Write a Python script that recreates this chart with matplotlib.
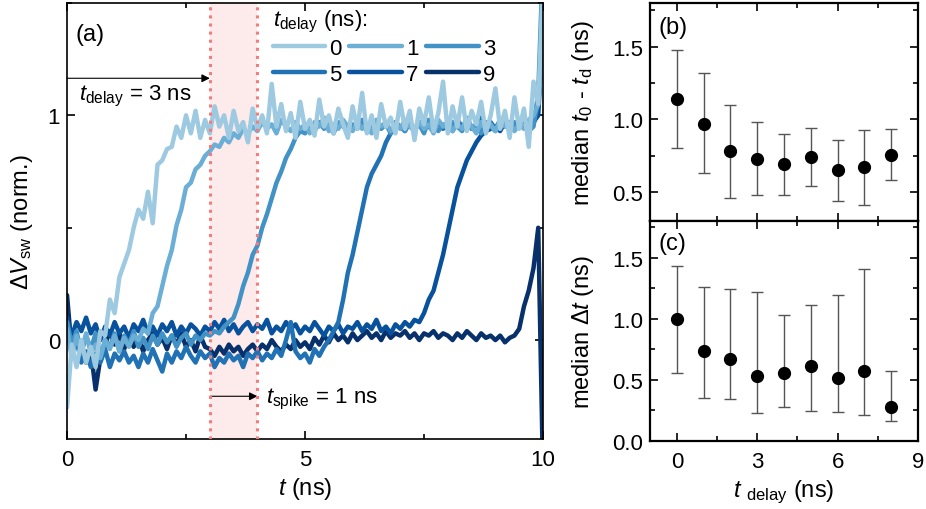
import numpy as np
import matplotlib.pyplot as plt
from matplotlib.ticker import MultipleLocator

plt.rcParams['font.family'] = ['Liberation Sans', 'DejaVu Sans']
plt.rcParams['mathtext.fontset'] = 'custom'
plt.rcParams['mathtext.rm'] = 'Liberation Sans'
plt.rcParams['mathtext.it'] = 'Liberation Sans:italic'
plt.rcParams['mathtext.bf'] = 'Liberation Sans:bold'

# --- panel (a): normalised switching traces, sampled every 0.1 ns ---
time_ns = np.round(np.arange(101) * 0.1, 1)
delays = [0, 1, 3, 5, 7, 9]
trace_colors = ['#9ecae1', '#6baed6', '#4292c6', '#2171b5', '#08519c', '#08306b']

v0 = [-0.30, -0.02, -0.12, 0.00, -0.10, -0.03, -0.12, 0.04, 0.02, 0.18,
      0.12, 0.28, 0.34, 0.40, 0.50, 0.58, 0.54, 0.66, 0.52, 0.78,
      0.80, 0.85, 0.86, 0.95, 0.90, 1.00, 0.92, 1.02, 0.90, 0.98,
      0.92, 1.04, 0.95, 1.00, 0.90, 1.02, 0.93, 0.97, 0.88, 1.03,
      0.94, 1.00, 0.92, 1.14, 0.95, 1.05, 0.93, 1.01, 0.90, 1.06,
      0.94, 0.98, 0.91, 1.07, 0.95, 1.00, 0.92, 1.03, 0.96, 0.90,
      1.04, 0.94, 1.10, 0.92, 1.00, 0.90, 1.05, 0.95, 0.99, 0.92,
      1.06, 0.94, 1.02, 0.89, 1.03, 0.96, 1.08, 0.93, 1.01, 1.15,
      0.92, 1.04, 0.95, 1.08, 0.93, 1.02, 0.96, 1.06, 0.92, 1.00,
      1.12, 0.94, 1.02, 0.90, 1.08, 0.94, 1.03, 0.86, 1.15, 1.05,
      1.60]
v1 = [0.05, -0.08, 0.02, -0.05, 0.03, -0.06, -0.02, -0.08, 0.00, -0.04,
      0.02, -0.05, 0.01, -0.03, 0.02, 0.00, 0.05, 0.03, 0.12, 0.15,
      0.24, 0.33, 0.40, 0.51, 0.58, 0.68, 0.70, 0.76, 0.78, 0.82,
      0.84, 0.87, 0.86, 0.90, 0.88, 0.92, 0.90, 0.94, 0.92, 0.95,
      0.93, 0.97, 0.94, 0.96, 0.92, 0.98, 0.95, 0.93, 0.97, 0.94,
      0.96, 0.92, 0.97, 0.95, 0.99, 0.93, 0.96, 0.94, 0.98, 0.95,
      0.93, 0.97, 0.94, 0.96, 0.92, 0.98, 0.95, 0.97, 0.93, 0.96,
      0.94, 0.98, 0.95, 0.93, 0.97, 0.94, 0.96, 0.92, 0.98, 0.95,
      0.97, 0.93, 0.96, 0.94, 0.99, 0.95, 0.92, 0.97, 0.94, 0.96,
      0.93, 0.98, 0.95, 0.97, 0.93, 0.96, 0.94, 0.98, 1.00, 1.05,
      1.30]
v3 = [0.08, -0.02, 0.04, -0.06, 0.02, -0.04, 0.03, -0.07, 0.00, -0.03,
      0.03, -0.05, 0.02, -0.02, 0.04, -0.03, 0.01, -0.04, 0.02, -0.02,
      0.03, -0.01, 0.02, -0.03, 0.01, 0.03, -0.02, 0.02, 0.00, 0.03,
      0.02, 0.04, 0.03, 0.06, 0.08, 0.10, 0.16, 0.24, 0.30, 0.38,
      0.42, 0.50, 0.56, 0.63, 0.70, 0.75, 0.81, 0.85, 0.90, 0.93,
      0.92, 0.95, 0.93, 0.97, 0.94, 0.96, 0.92, 0.97, 0.95, 0.93,
      0.96, 0.94, 0.98, 0.93, 0.95, 0.97, 0.94, 0.96, 0.92, 0.97,
      0.95, 0.93, 0.97, 0.94, 0.96, 0.92, 0.98, 0.95, 0.93, 0.96,
      0.94, 0.97, 0.95, 0.93, 0.98, 0.94, 0.96, 0.92, 0.97, 0.95,
      0.93, 0.96, 0.98, 0.94, 0.97, 0.95, 0.99, 0.93, 0.95, 1.10,
      1.70]
v5 = [0.05, -0.02, 0.00, -0.10, -0.05, -0.12, -0.06, -0.10, -0.04, -0.12,
      -0.06, -0.09, -0.05, -0.10, -0.07, -0.12, -0.06, -0.10, -0.04, -0.09,
      -0.14, -0.06, -0.10, -0.05, -0.08, -0.03, -0.07, -0.10, -0.05, -0.08,
      -0.06, -0.12, -0.08, -0.10, -0.06, -0.09, -0.07, -0.12, -0.06, -0.08,
      -0.05, -0.09, -0.06, -0.08, -0.04, -0.07, 0.00, 0.08, -0.05, -0.08,
      -0.06, -0.10, -0.04, -0.07, -0.03, 0.00, 0.04, 0.08, 0.18, 0.30,
      0.38, 0.48, 0.58, 0.68, 0.74, 0.78, 0.82, 0.88, 0.92, 0.94,
      0.95, 0.93, 0.97, 0.94, 0.96, 0.98, 0.95, 0.93, 0.97, 0.94,
      0.96, 0.93, 0.98, 0.95, 0.97, 0.94, 0.96, 0.99, 0.95, 0.97,
      0.94, 0.98, 0.95, 0.97, 0.94, 0.96, 0.98, 0.95, 0.96, 1.05,
      1.50]
v7 = [0.10, 0.02, 0.08, 0.04, 0.10, 0.03, 0.07, 0.00, 0.06, 0.02,
      0.08, 0.03, 0.06, 0.01, 0.07, 0.04, 0.09, 0.03, 0.06, 0.02,
      0.07, 0.04, 0.08, 0.02, 0.06, 0.03, 0.07, 0.05, 0.02, 0.06,
      0.04, 0.08, 0.05, 0.09, 0.04, 0.07, 0.03, 0.06, 0.08, 0.04,
      0.07, 0.05, 0.09, 0.03, 0.06, 0.04, 0.08, 0.05, 0.07, 0.03,
      0.06, 0.04, 0.08, 0.05, 0.02, 0.06, 0.04, 0.07, 0.03, 0.06,
      0.05, 0.08, 0.04, 0.07, 0.05, 0.09, 0.04, 0.06, 0.03, 0.07,
      0.05, 0.08, 0.06, 0.09, 0.08, 0.12, 0.18, 0.22, 0.30, 0.38,
      0.48, 0.58, 0.68, 0.74, 0.80, 0.84, 0.88, 0.91, 0.93, 0.94,
      0.95, 0.93, 0.97, 0.94, 0.96, 0.95, 0.98, 0.96, 0.97, 1.00,
      1.40]
v9 = [0.20, -0.05, 0.02, -0.03, -0.10, -0.05, -0.22, -0.08, -0.02, 0.04,
      -0.02, 0.03, -0.04, 0.02, -0.03, 0.01, -0.05, 0.00, 0.03, -0.02,
      0.01, -0.04, 0.02, -0.02, 0.03, -0.03, 0.00, -0.05, 0.02, -0.03,
      -0.04, -0.07, -0.03, -0.06, -0.02, -0.05, -0.03, -0.07, -0.04, -0.02,
      -0.05, -0.02, -0.04, 0.00, -0.03, -0.05, -0.02, -0.04, 0.00, -0.03,
      -0.01, -0.04, 0.01, -0.02, 0.02, -0.01, 0.03, 0.00, 0.02, -0.01,
      0.03, 0.00, 0.02, 0.04, 0.01, 0.03, 0.00, 0.04, 0.01, 0.03,
      0.02, 0.04, 0.01, 0.03, 0.00, 0.03, 0.02, 0.04, 0.01, 0.03,
      0.02, 0.00, 0.03, 0.01, 0.04, 0.02, 0.00, 0.03, 0.01, 0.02,
      0.00, 0.02, -0.01, 0.01, 0.02, 0.05, 0.15, 0.22, 0.32, 0.50,
      -0.60]
traces = [v0, v1, v3, v5, v7, v9]

# --- panels (b), (c): medians with spread ---
t_delay = [0, 1, 2, 3, 4, 5, 6, 7, 8]
t0_med = [1.14, 0.97, 0.78, 0.73, 0.69, 0.74, 0.65, 0.67, 0.755]
t0_lo = [0.80, 0.63, 0.46, 0.48, 0.48, 0.54, 0.44, 0.41, 0.58]
t0_hi = [1.48, 1.32, 1.10, 0.98, 0.90, 0.94, 0.86, 0.925, 0.93]
dt_med = [1.00, 0.74, 0.67, 0.53, 0.56, 0.615, 0.515, 0.575, 0.275]
dt_lo = [0.56, 0.35, 0.34, 0.23, 0.28, 0.245, 0.24, 0.215, 0.16]
dt_hi = [1.43, 1.26, 1.24, 1.22, 1.035, 1.11, 1.195, 1.405, 0.57]

fig = plt.figure(figsize=(9.26, 5.10), dpi=100)
ax_a = fig.add_axes([0.0724, 0.1373, 0.514, 0.8549])
ax_b = fig.add_axes([0.702, 0.5647, 0.2894, 0.4273])
ax_c = fig.add_axes([0.702, 0.1333, 0.2894, 0.4314], sharex=ax_b)

# spike window
ax_a.axvspan(3, 4, color='#fdeaea', lw=0, zorder=0)
for x in (3, 4):
    ax_a.axvline(x, color='#f47c7c', ls=':', lw=2.2, zorder=5)

lines = {}
for d, v, c in reversed(list(zip(delays, traces, trace_colors))):
    lines[d], = ax_a.plot(time_ns, v, color=c, lw=3.2, solid_capstyle='round', label=str(d))

order = [0, 5, 1, 7, 3, 9]
leg = ax_a.legend([lines[d] for d in order], [str(d) for d in order], ncol=3,
                  loc='upper left', bbox_to_anchor=(0.39, 1.035), frameon=False,
                  fontsize=16, title=r'$t_\mathrm{delay}$ (ns):', title_fontsize=16,
                  handlelength=2.35, handletextpad=0.2, columnspacing=0.35,
                  labelspacing=0.2, alignment='left')
for h in leg.get_lines():
    h.set_linewidth(3.2)

ax_a.annotate('', xy=(3, 1.165), xytext=(0, 1.165),
              arrowprops=dict(arrowstyle='-|>', color='black', lw=0.8,
                              mutation_scale=12, shrinkA=0, shrinkB=0))
ax_a.annotate('', xy=(4, -0.25), xytext=(3, -0.25),
              arrowprops=dict(arrowstyle='-|>', color='black', lw=0.8,
                              mutation_scale=12, shrinkA=0, shrinkB=0))
ax_a.text(0.25, 1.09, r'$t_\mathrm{delay}$ = 3 ns', va='center', fontsize=16)
ax_a.text(4.18, -0.26, r'$t_\mathrm{spike}$ = 1 ns', va='center', fontsize=16)
ax_a.text(0.18, 1.36, '(a)', va='center', fontsize=17)

ax_a.set_xlim(0, 10)
ax_a.set_ylim(-0.44, 1.5)
ax_a.xaxis.set_major_locator(MultipleLocator(5))
ax_a.xaxis.set_minor_locator(MultipleLocator(2.5))
ax_a.yaxis.set_major_locator(MultipleLocator(1))
ax_a.yaxis.set_minor_locator(MultipleLocator(0.5))
ax_a.set_xlabel(r'$t$ (ns)', fontsize=17, labelpad=4)
ax_a.set_ylabel(r'$\mathit{ΔV}_\mathrm{sw}$ (norm.)', fontsize=17)
ax_a.yaxis.set_label_coords(-0.068, 0.5)

for ax, med, lo, hi in ((ax_b, t0_med, t0_lo, t0_hi), (ax_c, dt_med, dt_lo, dt_hi)):
    med = np.array(med)
    err = [med - np.array(lo), np.array(hi) - med]
    ax.errorbar(t_delay, med, yerr=err, fmt='o', color='black', ms=8.5,
                ecolor='#555555', elinewidth=1, capsize=4, capthick=1)

ax_b.set_xlim(-1, 9)
ax_b.xaxis.set_major_locator(MultipleLocator(3))
ax_b.xaxis.set_minor_locator(MultipleLocator(1.5))
ax_b.set_ylim(0.3, 1.8)
ax_b.yaxis.set_major_locator(MultipleLocator(0.5))
ax_b.yaxis.set_minor_locator(MultipleLocator(0.25))
ax_c.set_ylim(0, 1.8)
ax_c.yaxis.set_major_locator(MultipleLocator(0.5))
ax_c.yaxis.set_minor_locator(MultipleLocator(0.25))
ax_b.tick_params(labelbottom=False)
ax_b.text(0.03, 0.89, '(b)', transform=ax_b.transAxes, va='center', fontsize=17)
ax_c.text(0.03, 0.9, '(c)', transform=ax_c.transAxes, va='center', fontsize=17)
ax_b.set_ylabel(r'median $t_0$ - $t_\mathrm{d}$ (ns)', fontsize=17)
ax_c.set_ylabel(r'median $\mathit{Δt}$ (ns)', fontsize=17)
ax_c.set_xlabel(r'$t$ $_\mathrm{delay}$ (ns)', fontsize=17, labelpad=4)
ax_b.yaxis.set_label_coords(-0.2, 0.5)
ax_c.yaxis.set_label_coords(-0.2, 0.5)

for ax, lw in ((ax_a, 1.2), (ax_b, 1.6), (ax_c, 1.6)):
    for s in ax.spines.values():
        s.set_linewidth(lw)
    ax.tick_params(which='both', direction='in', top=True, right=True,
                   labelsize=16, width=1.2)
    ax.tick_params(which='major', length=6)
    ax.tick_params(which='minor', length=3.5)
    ax.tick_params(axis='x', pad=7)
    ax.tick_params(axis='y', pad=5)

fig.savefig('out.png', dpi=100)
